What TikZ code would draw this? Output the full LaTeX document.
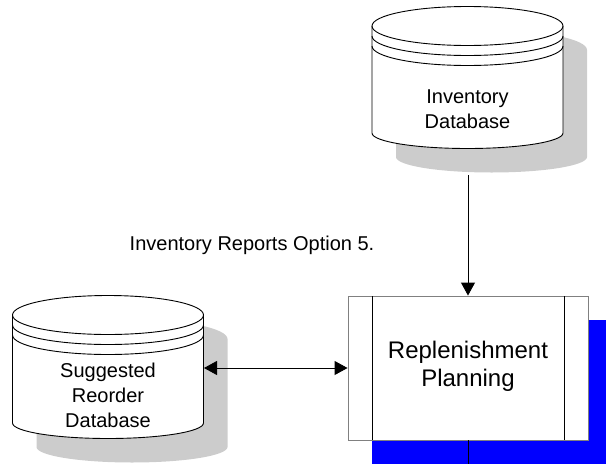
\documentclass[tikz,border=0pt]{standalone}
\usepackage{fontspec}
\setmainfont{Liberation Sans}
\usetikzlibrary{arrows.meta}

\definecolor{shadowgray}{HTML}{CCCCCC}
\definecolor{framegray}{HTML}{808080}
\definecolor{shadowblue}{HTML}{0000FF}

\tikzset{
  dbline/.style={draw=black, line width=0.9pt},
  dbtext/.style={align=center, font=\fontsize{20}{25}\selectfont, inner sep=0pt},
  proctext/.style={align=center, font=\fontsize{24}{28}\selectfont},
  flow/.style={draw=black, line width=0.9pt},
  tip/.style={-{Triangle[length=13pt,width=14pt]}},
  dtip/.style={{Triangle[length=13pt,width=14pt]}-{Triangle[length=13pt,width=14pt]}},
}

% outline of a database cylinder: #1 centre x, #2 y of top ellipse centre,
% #3 y where the sides end, #4 path options
\newcommand\dbsilhouette[4]{%
  \path[#4] ({#1-95.5},#2)
    arc[start angle=180,end angle=360,x radius=95.5,y radius=19.5]
    -- ({#1+95.5},#3)
    arc[start angle=0,end angle=180,x radius=95.5,y radius=15.5]
    -- cycle;}
% lower rim of the lid and the two bands beneath it
\newcommand\dbbands[2]{%
  \draw[dbline] ({#1-95.5},#2)
    arc[start angle=180,end angle=0,x radius=95.5,y radius=19.5];
  \draw[dbline] ({#1-95.5},{#2+10})
    arc[start angle=180,end angle=0,x radius=95.5,y radius=19.5];
  \draw[dbline] ({#1-95.5},{#2+20})
    arc[start angle=180,end angle=0,x radius=95.5,y radius=19.5];}

\begin{document}
\begin{tikzpicture}[x=1pt,y=-1pt]
\useasboundingbox (0,0) rectangle (606,464);

% ---- Inventory Database ----
\dbsilhouette{491.5}{50}{157}{fill=shadowgray}
\dbsilhouette{467.5}{26}{133}{fill=white,dbline}
\dbbands{467.5}{26}
\node[dbtext] (inv) at (467.5,109.5) {Inventory\\Database};
\coordinate (invbase) at (468,175);

% ---- Suggested Reorder Database ----
\dbsilhouette{132}{339}{447}{fill=shadowgray}
\dbsilhouette{108}{315}{423}{fill=white,dbline}
\dbbands{108}{315}
\node[dbtext] (sugg) at (108,395) {Suggested\\Reorder\\Database};
\coordinate (suggport) at (204,368);

% ---- Replenishment Planning process ----
\fill[shadowblue] (372,320) rectangle (606,464);
\node[draw=framegray, fill=white, line width=0.9pt, minimum width=240pt,
      minimum height=144pt, inner sep=0pt] (proc) at (468,368) {};
\draw[flow] (372,296) -- (372,440);
\draw[flow] (564,296) -- (564,440);
\node[proctext] (proclabel) at (468,366.5) {Replenishment\\Planning};
\coordinate (procout) at (468,464);

% ---- label ----
\node[font=\fontsize{20}{24}\selectfont] (rep) at (252,245) {Inventory Reports Option 5.};

% ---- connectors ----
\draw[flow,tip] (invbase) -- (proc.north);
\draw[flow,dtip] (suggport) -- (proc.west);
\draw[flow] (proc.south) -- (procout);
\end{tikzpicture}
\end{document}
